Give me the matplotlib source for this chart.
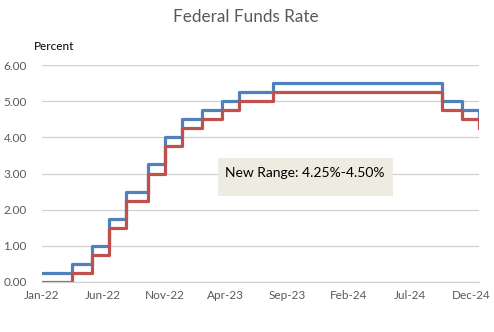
import datetime as dt
import matplotlib
matplotlib.use('Agg')
import matplotlib.pyplot as plt
from matplotlib.patches import Rectangle

# FOMC target range changes (date, lower, upper)
change_dates = ['2022-01-01', '2022-03-17', '2022-05-05', '2022-06-16', '2022-07-28',
                '2022-09-22', '2022-11-03', '2022-12-15', '2023-02-02', '2023-03-23',
                '2023-05-04', '2023-07-27', '2024-09-19', '2024-11-08', '2024-12-19',
                '2024-12-20']
lower = [0.00, 0.25, 0.75, 1.50, 2.25, 3.00, 3.75, 4.25, 4.50, 4.75,
         5.00, 5.25, 4.75, 4.50, 4.25, 4.25]
upper = [0.25, 0.50, 1.00, 1.75, 2.50, 3.25, 4.00, 4.50, 4.75, 5.00,
         5.25, 5.50, 5.00, 4.75, 4.50, 4.50]
tick_labels = ['Jan-22', 'Jun-22', 'Nov-22', 'Apr-23', 'Sep-23', 'Feb-24', 'Jul-24', 'Dec-24']
y_ticks = [0, 1, 2, 3, 4, 5, 6]
note = 'New Range: 4.25%-4.50%'

dates = [dt.datetime.strptime(d, '%Y-%m-%d') for d in change_dates]
tick_dates = [dt.datetime.strptime(t, '%b-%y') for t in tick_labels]

plt.rcParams['font.family'] = ['Lato', 'DejaVu Sans']
txt = '#595959'
grid = '#D0D0D0'
W, H = 494, 332

fig = plt.figure(figsize=(4.94, 3.32), dpi=100)
ax = fig.add_axes([42 / W, 1 - 282 / H, (479 - 42) / W, (282 - 65) / H])

ax.plot(dates, upper, drawstyle='steps-post', color='#4F81BD', lw=2.3)
ax.plot(dates, lower, drawstyle='steps-post', color='#C0504D', lw=2.3)

ax.set_xlim(dates[0], dates[-1])
ax.set_ylim(0, 6)
ax.set_yticks(y_ticks)
ax.set_yticklabels(['%.2f' % v for v in y_ticks])
ax.set_xticks(tick_dates)
ax.set_xticklabels(tick_labels)
ax.grid(axis='y', color=grid, lw=0.9)
ax.set_axisbelow(True)
for s in ['top', 'right', 'left']:
    ax.spines[s].set_visible(False)
ax.spines['bottom'].set_color(grid)
ax.spines['bottom'].set_linewidth(0.9)
ax.tick_params(length=0, labelsize=8.5, colors=txt)
ax.tick_params(axis='y', pad=11)
ax.tick_params(axis='x', pad=6)

fig.text(246 / W, 1 - 17 / H, 'Federal Funds Rate', ha='center', va='center',
         fontsize=12.3, color=txt)
fig.text(34 / W, 1 - 46 / H, 'Percent', ha='left', va='center', fontsize=8.5, color='#000000')

# annotation box
fig.patches.append(Rectangle((218 / W, 1 - 196 / H), (393 - 218) / W, (196 - 158) / H,
                             transform=fig.transFigure, fc='#EEEBE0', ec='none', zorder=3))
fig.text(305 / W, 1 - 173 / H, note, ha='center', va='center', fontsize=10,
         color='#000000', zorder=4)

fig.savefig('out.png', dpi=100)
